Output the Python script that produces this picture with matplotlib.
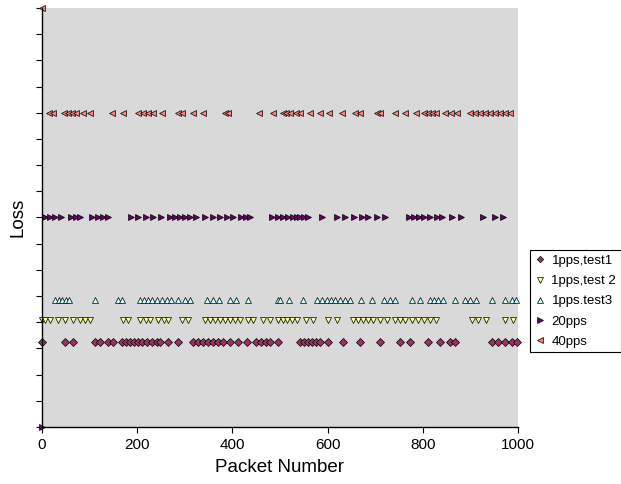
import numpy as np
import matplotlib.pyplot as plt

plt.rcParams['font.family'] = ['Liberation Sans', 'DejaVu Sans']

# packet numbers where a loss was recorded, per run
test1_x = [0, 48, 65, 111, 122, 139, 149, 168, 176, 185, 193, 202, 210, 220, 231,
           241, 248, 265, 286, 317, 328, 338, 349, 359, 370, 380, 395, 412, 431,
           450, 460, 471, 479, 495, 542, 550, 559, 567, 576, 584, 601, 632, 668,
           710, 752, 773, 811, 836, 857, 868, 945, 958, 973, 987, 998]
test2_x = [0, 6, 17, 34, 48, 65, 80, 90, 101, 170, 181, 206, 218, 227, 244, 256,
           265, 294, 307, 342, 353, 363, 374, 384, 395, 405, 416, 433, 443, 464,
           479, 496, 507, 515, 525, 536, 555, 569, 601, 620, 653, 664, 674, 685,
           695, 710, 725, 741, 752, 762, 777, 790, 802, 815, 827, 903, 916, 933,
           973, 989]
test3_x = [27, 35, 42, 50, 57, 111, 160, 168, 206, 214, 223, 231, 242, 252, 263,
           271, 286, 300, 311, 347, 359, 372, 395, 407, 433, 496, 500, 519, 548,
           578, 588, 599, 607, 615, 626, 636, 647, 670, 693, 718, 731, 741, 777,
           794, 815, 823, 832, 842, 867, 888, 899, 911, 945, 972, 987, 995]
pps20_x = [0, 6, 17, 27, 40, 61, 71, 80, 105, 118, 128, 139, 187, 202, 218, 233,
           250, 269, 279, 290, 300, 311, 323, 342, 359, 374, 389, 401, 418, 428,
           437, 483, 496, 506, 517, 527, 536, 542, 550, 559, 588, 620, 636, 655,
           672, 685, 704, 720, 771, 781, 792, 802, 815, 830, 840, 861, 880, 926,
           951, 968]
pps40_x = [0, 15, 23, 46, 55, 63, 71, 86, 101, 147, 170, 202, 212, 223, 233, 252,
           286, 294, 317, 338, 384, 391, 456, 485, 506, 512, 521, 534, 542, 563,
           584, 603, 630, 658, 668, 704, 710, 742, 763, 786, 802, 811, 819, 828,
           847, 859, 872, 899, 910, 920, 931, 941, 952, 962, 973, 983]

# loss level plotted for each run
test1_y = [3.25] * len(test1_x)
test2_y = [4.1] * len(test2_x)
test3_y = [4.85] * len(test3_x)
pps20_y = [0] + [8] * (len(pps20_x) - 1)
pps40_y = [16] + [12] * (len(pps40_x) - 1)

fig = plt.figure(figsize=(6.21, 4.84), dpi=100)
ax = fig.add_axes([0.0676, 0.1178, 0.7665, 0.8657])
ax.set_facecolor('#D9D9D9')

ms = 5.0
kw = dict(linestyle='none', markeredgecolor='black', markeredgewidth=0.5,
          clip_on=False, markersize=ms)
ax.plot(test1_x, test1_y, marker='D', color='#993366', label='1pps,test1',
        **{**kw, 'markersize': 4.0})
ax.plot(test2_x, test2_y, marker='v', color='#FFFF99', label='1pps,test 2', **kw)
ax.plot(test3_x, test3_y, marker='^', color='#CCFFFF', label='1pps.test3', **kw)
ax.plot(pps20_x, pps20_y, marker='>', color='#660066', label='20pps', **kw)
ax.plot(pps40_x, pps40_y, marker='<', color='#FF8080', label='40pps', **kw)

ax.set_xlim(0, 1000)
ax.set_ylim(0, 16)
ax.set_xticks(np.arange(0, 1001, 200))
ax.set_yticks(np.arange(0, 17, 1))
ax.set_yticklabels([])
ax.tick_params(axis='x', direction='out', length=4, width=0.8, labelsize=11,
               pad=4)
ax.tick_params(axis='y', direction='out', length=4, width=0.8)
for side in ['top', 'right']:
    ax.spines[side].set_visible(False)
for side in ['left', 'bottom']:
    ax.spines[side].set_linewidth(1.0)
    ax.spines[side].set_color('black')

ax.set_xlabel('Packet Number', fontsize=13.5, labelpad=5)
ax.set_ylabel('Loss', fontsize=13.5, labelpad=4)

leg = fig.legend(loc='upper left', bbox_to_anchor=(0.853, 0.483),
                 fontsize=9.5, frameon=True, fancybox=False, framealpha=1,
                 edgecolor='black', borderaxespad=0, handlelength=0.8,
                 handletextpad=0.5, borderpad=0.35, labelspacing=0.6,
                 markerscale=0.8)
leg.get_frame().set_linewidth(0.8)

fig.savefig('out.png', dpi=100)
